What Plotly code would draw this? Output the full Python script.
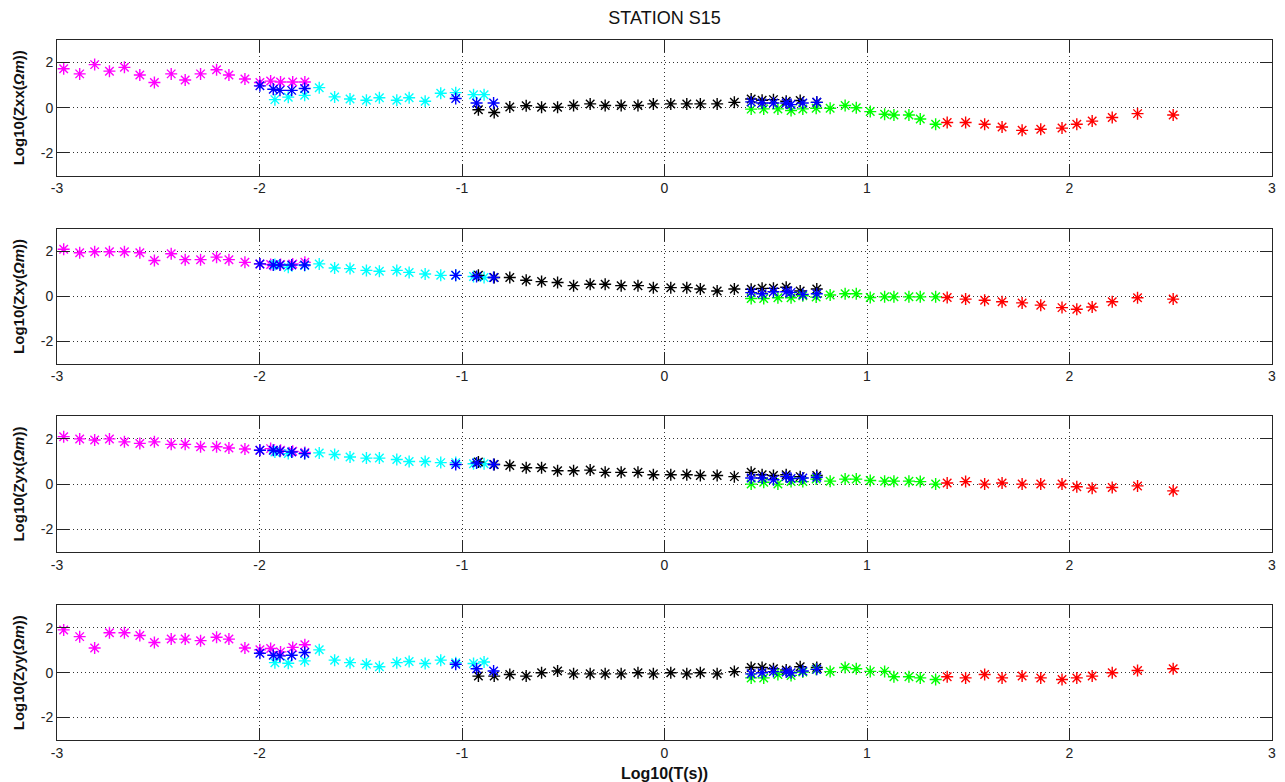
import plotly.graph_objects as go

# ---------------- data (log10 period) ----------------
x_magenta = [-2.967, -2.888, -2.814, -2.741, -2.667, -2.591, -2.519, -2.436, -2.367,
             -2.291, -2.212, -2.151, -2.072, -1.998, -1.945, -1.896, -1.836, -1.776]
x_cyan = [-1.924, -1.858, -1.777, -1.705, -1.629, -1.553, -1.472, -1.408, -1.322,
          -1.261, -1.182, -1.105, -1.031, -0.943, -0.891]
x_black = [-0.919, -0.841, -0.764, -0.683, -0.607, -0.528, -0.449, -0.367, -0.293,
           -0.214, -0.131, -0.055, 0.031, 0.110, 0.177, 0.260, 0.345, 0.428, 0.482,
           0.538, 0.601, 0.670, 0.752]
x_green = [0.428, 0.490, 0.560, 0.625, 0.683, 0.749, 0.818, 0.892, 0.947, 1.016,
           1.087, 1.133, 1.207, 1.263, 1.339]
x_red = [1.396, 1.487, 1.581, 1.667, 1.766, 1.858, 1.963, 2.036, 2.112, 2.211, 2.336, 2.512]
x_blue = [-1.998, -1.932, -1.899, -1.841, -1.777, -1.031, -0.928, -0.844, 0.428, 0.482,
          0.538, 0.601, 0.625, 0.683, 0.752]

# ---------------- Zxx ----------------
zxx_magenta = [1.73, 1.50, 1.91, 1.62, 1.79, 1.45, 1.12, 1.50, 1.23, 1.50, 1.68, 1.45,
               1.27, 1.12, 1.18, 1.14, 1.14, 1.14]
zxx_cyan = [0.36, 0.47, 0.55, 0.89, 0.48, 0.39, 0.33, 0.44, 0.33, 0.44, 0.29, 0.64,
            0.67, 0.58, 0.58]
zxx_black = [-0.09, -0.21, 0.03, 0.09, 0.02, 0.02, 0.10, 0.17, 0.10, 0.10, 0.10, 0.17,
             0.17, 0.17, 0.17, 0.17, 0.24, 0.39, 0.33, 0.36, 0.29, 0.32, 0.24]
zxx_green = [-0.06, -0.05, -0.05, -0.12, -0.05, -0.02, -0.02, 0.10, 0.00, -0.17, -0.29,
             -0.32, -0.32, -0.50, -0.73]
zxx_red = [-0.65, -0.65, -0.73, -0.85, -1.00, -0.95, -0.90, -0.73, -0.59, -0.43, -0.26, -0.32]
zxx_blue = [0.97, 0.82, 0.77, 0.77, 0.85, 0.41, 0.21, 0.21, 0.26, 0.21, 0.21, 0.21,
            0.14, 0.21, 0.24]

# ---------------- Zxy ----------------
zxy_magenta = [2.10, 1.95, 1.99, 1.99, 1.99, 1.95, 1.60, 1.90, 1.64, 1.64, 1.75, 1.64,
               1.52, 1.45, 1.42, 1.42, 1.45, 1.52]
zxy_cyan = [1.42, 1.30, 1.38, 1.45, 1.27, 1.24, 1.16, 1.12, 1.16, 1.07, 1.00, 0.94,
            0.94, 0.89, 0.84]
zxy_black = [0.94, 0.84, 0.84, 0.72, 0.66, 0.62, 0.48, 0.54, 0.54, 0.48, 0.48, 0.39,
             0.39, 0.39, 0.33, 0.24, 0.33, 0.32, 0.36, 0.36, 0.41, 0.24, 0.33]
zxy_green = [-0.09, -0.09, -0.06, -0.06, 0.03, -0.03, 0.06, 0.12, 0.12, -0.05, -0.02,
             -0.02, -0.02, -0.02, -0.02]
zxy_red = [-0.05, -0.12, -0.17, -0.24, -0.29, -0.39, -0.50, -0.57, -0.47, -0.24, -0.06, -0.12]
zxy_blue = [1.45, 1.40, 1.40, 1.40, 1.40, 0.94, 0.89, 0.84, 0.17, 0.12, 0.21, 0.21,
            0.18, 0.09, 0.12]

# ---------------- Zyx ----------------
zyx_magenta = [2.10, 2.00, 1.95, 2.00, 1.87, 1.80, 1.87, 1.76, 1.76, 1.65, 1.65, 1.60,
               1.55, 1.50, 1.57, 1.50, 1.45, 1.40]
zyx_cyan = [1.42, 1.35, 1.35, 1.38, 1.31, 1.20, 1.15, 1.15, 1.09, 1.00, 1.00, 0.95,
            0.95, 0.90, 0.90]
zyx_black = [0.98, 0.87, 0.82, 0.72, 0.72, 0.59, 0.59, 0.62, 0.52, 0.52, 0.52, 0.41,
             0.41, 0.41, 0.38, 0.38, 0.33, 0.52, 0.41, 0.38, 0.41, 0.33, 0.38]
zyx_green = [0.00, 0.08, 0.00, 0.11, 0.11, 0.22, 0.13, 0.22, 0.22, 0.16, 0.13, 0.13,
             0.13, 0.11, 0.00]
zyx_red = [0.05, 0.11, 0.00, 0.05, 0.00, 0.00, 0.00, -0.12, -0.18, -0.15, -0.08, -0.30]
zyx_blue = [1.50, 1.50, 1.45, 1.42, 1.35, 0.87, 0.93, 0.87, 0.27, 0.27, 0.19, 0.33,
            0.25, 0.27, 0.30]

# ---------------- Zyy ----------------
zyy_magenta = [1.91, 1.61, 1.10, 1.78, 1.78, 1.66, 1.35, 1.50, 1.50, 1.43, 1.58, 1.50,
               1.10, 1.02, 1.08, 0.93, 1.13, 1.25]
zyy_cyan = [0.45, 0.42, 0.53, 1.02, 0.56, 0.45, 0.38, 0.27, 0.45, 0.50, 0.41, 0.56,
            0.45, 0.41, 0.48]
zyy_black = [-0.15, -0.15, -0.08, -0.15, 0.00, 0.08, -0.05, -0.05, -0.05, -0.05, 0.00,
             -0.05, 0.00, -0.05, 0.00, -0.05, 0.05, 0.23, 0.23, 0.18, 0.12, 0.27, 0.23]
zyy_green = [-0.23, -0.23, -0.08, -0.12, 0.03, 0.15, 0.05, 0.23, 0.18, 0.06, 0.06,
             -0.18, -0.18, -0.23, -0.30]
zyy_red = [-0.18, -0.23, -0.08, -0.23, -0.15, -0.23, -0.30, -0.23, -0.15, 0.00, 0.10, 0.18]
zyy_blue = [0.87, 0.78, 0.75, 0.78, 0.90, 0.38, 0.18, 0.08, -0.05, 0.00, 0.05, 0.03,
            0.00, 0.08, 0.15]

panel_labels = ["Zxx", "Zxy", "Zyx", "Zyy"]
x_ticks = [-3, -2, -1, 0, 1, 2, 3]
y_ticks = [-2, 0, 2]
title_text = "STATION S15"
x_title = "Log10(T(s))"

panels = [
    (zxx_magenta, zxx_cyan, zxx_black, zxx_green, zxx_red, zxx_blue),
    (zxy_magenta, zxy_cyan, zxy_black, zxy_green, zxy_red, zxy_blue),
    (zyx_magenta, zyx_cyan, zyx_black, zyx_green, zyx_red, zyx_blue),
    (zyy_magenta, zyy_cyan, zyy_black, zyy_green, zyy_red, zyy_blue),
]
xs = [x_magenta, x_cyan, x_black, x_green, x_red, x_blue]
colors = ["#FF00FF", "#00FFFF", "#000000", "#00FF00", "#FF0000", "#0000FF"]

# domains (top panel first)
domains = [[0.8064, 1.0], [0.5376, 0.7298], [0.2688, 0.4624], [0.0, 0.1922]]

fig = go.Figure()
FONT = "Liberation Sans, Arial, sans-serif"
axcol = "#262626"

for i, series in enumerate(panels):
    n = i + 1
    xa = "x" if n == 1 else f"x{n}"
    ya = "y" if n == 1 else f"y{n}"
    for xv, yv, c in zip(xs, series, colors):
        fig.add_trace(go.Scatter(
            x=xv, y=yv, mode="markers", xaxis=xa, yaxis=ya, showlegend=False,
            cliponaxis=False,
            marker=dict(symbol="asterisk-open", size=10, color=c,
                        line=dict(color=c, width=1.4)),
        ))
    xkey = "xaxis" if n == 1 else f"xaxis{n}"
    ykey = "yaxis" if n == 1 else f"yaxis{n}"
    fig.layout[xkey] = dict(
        domain=[0, 1], anchor=ya, range=[-3, 3], tickvals=x_ticks,
        ticktext=[str(t) for t in x_ticks], automargin=False,
        showline=True, mirror="ticks", linecolor=axcol, linewidth=1,
        ticks="inside", ticklen=12, tickcolor=axcol, tickwidth=1,
        showgrid=True, gridcolor="#333333", gridwidth=1, griddash="1px,3px",
        zeroline=False, tickfont=dict(family=FONT, size=14, color="#222222"),
        title=dict(text=f"<b>{x_title}</b>", font=dict(family=FONT, size=16, color="#111111"),
                   standoff=10) if n == 4 else None,
    )
    fig.layout[ykey] = dict(
        domain=domains[i], anchor=xa, range=[-3, 3], tickvals=y_ticks,
        ticktext=[str(t) for t in y_ticks], automargin=False,
        showline=True, mirror="ticks", linecolor=axcol, linewidth=1,
        ticks="inside", ticklen=12, tickcolor=axcol, tickwidth=1,
        showgrid=True, gridcolor="#333333", gridwidth=1, griddash="1px,3px",
        zeroline=False, tickfont=dict(family=FONT, size=14, color="#222222"),
        title=dict(text=f"<b>Log10({panel_labels[i]}(<i>Ωm</i>))</b>",
                   font=dict(family=FONT, size=15, color="#111111"), standoff=12),
    )

# the page body adds an 8px offset, so the figure is sized 1277x774
fig.update_layout(
    width=1277, height=774,
    margin=dict(l=49, r=13, t=32, b=42),
    paper_bgcolor="white", plot_bgcolor="white",
    title=dict(text=title_text, xref="paper", x=0.5, xanchor="center",
               yref="container", y=0.988, yanchor="middle",
               font=dict(family=FONT, size=18, color="#111111")),
)

fig.write_html("out.html")
